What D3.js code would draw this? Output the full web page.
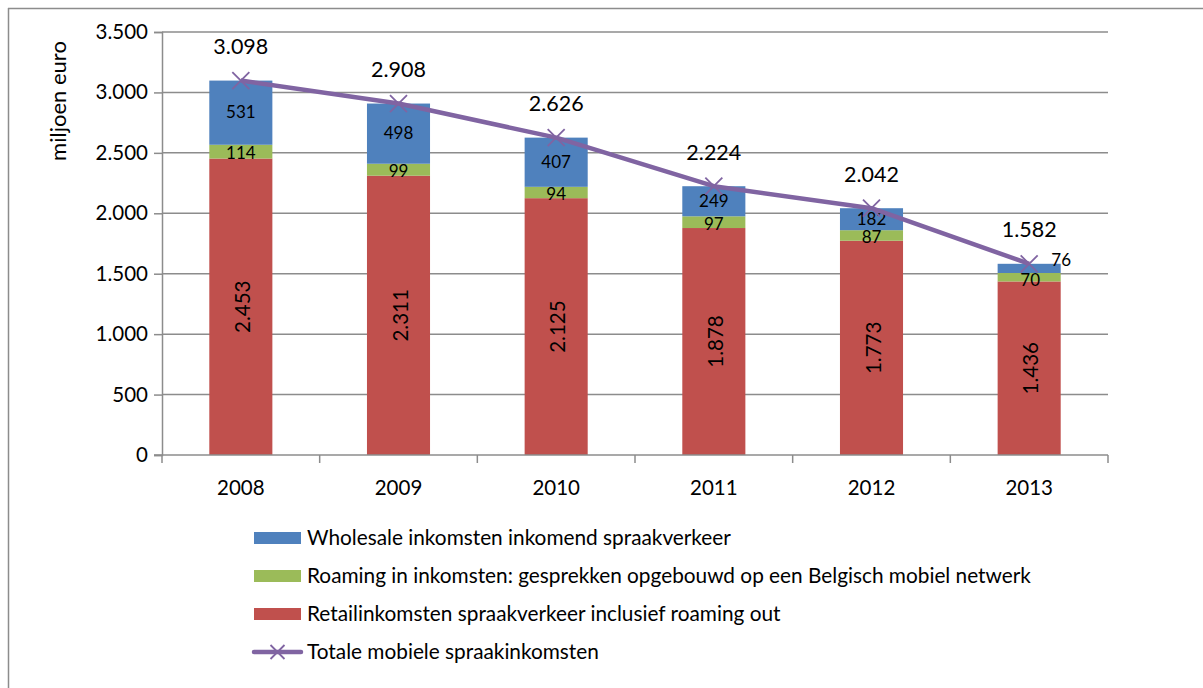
<!DOCTYPE html>
<html>
<head>
<meta charset="utf-8">
<script src="https://cdn.jsdelivr.net/npm/d3@7"></script>
<style>
  html, body { margin: 0; padding: 0; background: #fff; }
  svg { display: block; font-family: Lato, "Open Sans", "Noto Sans", sans-serif; }
</style>
</head>
<body>
<svg id="chart" width="1203" height="688"></svg>
<script>
// Mobile voice revenue (million euro), by year
const years = ["2008", "2009", "2010", "2011", "2012", "2013"];
const retail = [2453, 2311, 2125, 1878, 1773, 1436];
const roamingIn = [114, 99, 94, 97, 87, 70];
const wholesale = [531, 498, 407, 249, 182, 76];
const totals = [3098, 2908, 2626, 2224, 2042, 1582];
const yTicks = [0, 500, 1000, 1500, 2000, 2500, 3000, 3500];

const seriesNames = [
  "Wholesale inkomsten inkomend spraakverkeer",
  "Roaming in inkomsten: gesprekken opgebouwd op een Belgisch mobiel netwerk",
  "Retailinkomsten spraakverkeer inclusief roaming out",
  "Totale mobiele spraakinkomsten"
];
const colors = { retail: "#C0504D", roaming: "#9BBB59", wholesale: "#4F81BD", line: "#8064A2" };

const fmt = v => d3.format(",")(v).replace(/,/g, ".");

const svg = d3.select("#chart");

// outer frame
svg.append("line").attr("x1", 8).attr("x2", 1203).attr("y1", 8.5).attr("y2", 8.5)
  .attr("stroke", "#8c8c8c").attr("stroke-width", 1.5);
svg.append("line").attr("x1", 8.5).attr("x2", 8.5).attr("y1", 8).attr("y2", 688)
  .attr("stroke", "#8c8c8c").attr("stroke-width", 1.5);

const plot = { left: 162, right: 1108, top: 32, bottom: 455 };

const x = d3.scaleBand().domain(years).range([plot.left, plot.right]).paddingInner(0.6).paddingOuter(0.3);
const xOuter = d3.scaleBand().domain(years).range([plot.left, plot.right]);
const y = d3.scaleLinear().domain([0, 3500]).range([plot.bottom, plot.top]);

// gridlines
svg.append("g").selectAll("line").data(yTicks.filter(t => t > 0)).join("line")
  .attr("x1", plot.left).attr("x2", plot.right)
  .attr("y1", d => y(d)).attr("y2", d => y(d))
  .attr("stroke", "#8c8c8c").attr("stroke-width", 1.5);

// y axis
const yAxis = svg.append("g").attr("transform", `translate(${plot.left},0)`)
  .call(d3.axisLeft(y).tickValues(yTicks).tickFormat(fmt).tickSize(8).tickPadding(6));
yAxis.attr("font-family", null).attr("font-size", null);
yAxis.select(".domain").attr("stroke", "#8c8c8c").attr("stroke-width", 1.5);
yAxis.selectAll(".tick line").attr("stroke", "#8c8c8c").attr("stroke-width", 1.5);
yAxis.selectAll(".tick text").attr("font-size", 20.5).attr("fill", "#000");

svg.append("text")
  .attr("transform", `translate(58,101) rotate(-90)`)
  .attr("dy", "0.35em")
  .attr("text-anchor", "middle").attr("font-size", 22).attr("fill", "#000")
  .text("miljoen euro");

// stacked bars
const rows = years.map((yr, i) => ({ year: yr, retail: retail[i], roaming: roamingIn[i], wholesale: wholesale[i] }));
const stack = d3.stack().keys(["retail", "roaming", "wholesale"])(rows);

const barG = svg.append("g");
stack.forEach(layer => {
  barG.append("g").attr("fill", colors[layer.key])
    .selectAll("rect").data(layer).join("rect")
    .attr("x", d => x(d.data.year))
    .attr("width", x.bandwidth())
    .attr("y", d => y(d[1]))
    .attr("height", d => y(d[0]) - y(d[1]));
});

// x axis
const xAxisG = svg.append("g").attr("transform", `translate(0,${plot.bottom})`);
xAxisG.append("line").attr("x1", plot.left - 8).attr("x2", plot.right)
  .attr("stroke", "#8c8c8c").attr("stroke-width", 1.5);
const bounds = years.map(d => xOuter(d)).concat([plot.right]);
xAxisG.selectAll("line.tk").data(bounds).join("line").attr("class", "tk")
  .attr("x1", d => d).attr("x2", d => d).attr("y1", 0).attr("y2", 8)
  .attr("stroke", "#8c8c8c").attr("stroke-width", 1.5);
xAxisG.selectAll("text").data(years).join("text")
  .attr("x", d => x(d) + x.bandwidth() / 2).attr("y", 33)
  .attr("dy", "0.35em")
  .attr("text-anchor", "middle").attr("font-size", 20.5).attr("fill", "#000")
  .text(d => d);

const cx = d => x(d) + x.bandwidth() / 2;

// retail labels (rotated)
svg.append("g").selectAll("text").data(stack[0]).join("text")
  .attr("transform", d => `translate(${cx(d.data.year) + 2},${(y(d[0]) + y(d[1])) / 2}) rotate(-90)`)
  .attr("dy", "0.35em")
  .attr("text-anchor", "middle").attr("font-size", 20.5).attr("fill", "#000")
  .text(d => fmt(d.data.retail));

// roaming labels
svg.append("g").selectAll("text").data(stack[1]).join("text")
  .attr("x", d => cx(d.data.year) + (d.data.year === "2013" ? 1 : 0))
  .attr("y", d => (y(d[0]) + y(d[1])) / 2 + (d.data.year === "2013" ? 3 : 1.5))
  .attr("dy", "0.35em")
  .attr("text-anchor", "middle").attr("font-size", 17).attr("fill", "#000")
  .text(d => d.data.roaming);

// wholesale labels
svg.append("g").selectAll("text").data(stack[2]).join("text")
  .attr("x", d => cx(d.data.year) + (d.data.year === "2013" ? 32 : 0))
  .attr("y", d => (y(d[0]) + y(d[1])) / 2 + (d.data.year === "2013" ? -8 : -0.5))
  .attr("dy", "0.35em")
  .attr("text-anchor", "middle").attr("font-size", 17).attr("fill", "#000")
  .text(d => d.data.wholesale);

// total line
const linePts = years.map((yr, i) => [cx(yr), y(totals[i])]);
svg.append("path").datum(linePts)
  .attr("d", d3.line())
  .attr("fill", "none").attr("stroke", colors.line).attr("stroke-width", 4.5)
  .attr("stroke-linejoin", "round");

const xMark = (g, px, py, s) => {
  g.append("path")
    .attr("d", `M${px - s},${py - s}L${px + s},${py + s}M${px - s},${py + s}L${px + s},${py - s}`)
    .attr("stroke", colors.line).attr("stroke-width", 1.8).attr("fill", "none");
};
const markG = svg.append("g");
linePts.forEach(p => xMark(markG, p[0], p[1], 8.5));

svg.append("g").selectAll("text").data(years).join("text")
  .attr("x", d => cx(d)).attr("y", (d, i) => y(totals[i]) - 34)
  .attr("dy", "0.35em")
  .attr("text-anchor", "middle").attr("font-size", 21.5).attr("fill", "#000")
  .text((d, i) => fmt(totals[i]));

// legend
const legend = svg.append("g");
const legendRows = [
  { name: seriesNames[0], type: "rect", color: colors.wholesale },
  { name: seriesNames[1], type: "rect", color: colors.roaming },
  { name: seriesNames[2], type: "rect", color: colors.retail },
  { name: seriesNames[3], type: "line", color: colors.line }
];
legendRows.forEach((r, i) => {
  const ly = 538 + i * 38;
  if (r.type === "rect") {
    legend.append("rect").attr("x", 254).attr("y", ly - 6).attr("width", 47).attr("height", 12).attr("fill", r.color);
  } else {
    legend.append("line").attr("x1", 254).attr("x2", 301).attr("y1", ly).attr("y2", ly)
      .attr("stroke", r.color).attr("stroke-width", 4.5).attr("stroke-linecap", "round");
    xMark(legend, 277.5, ly, 7);
  }
  legend.append("text").attr("x", 307).attr("y", ly).attr("dy", "0.35em")
    .attr("font-size", 20.8).attr("fill", "#000").text(r.name);
});
</script>
</body>
</html>
